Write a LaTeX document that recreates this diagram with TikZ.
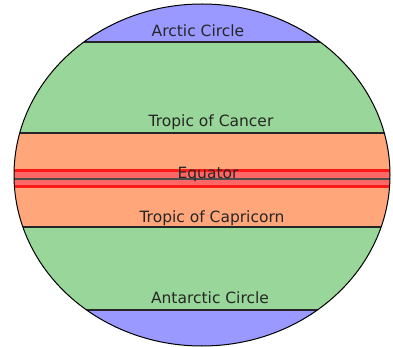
\documentclass[tikz,border=0pt]{standalone}
\usepackage{fontspec}
\setmainfont{DejaVu Sans}
\definecolor{polar}{HTML}{9999FF}
\definecolor{temperate}{HTML}{99D699}
\definecolor{tropic}{HTML}{FFA77A}
\definecolor{eqband}{HTML}{FF6666}
\definecolor{eqline}{HTML}{FF1A1A}
\begin{document}
\begin{tikzpicture}[x=1pt,y=-1pt,
  lbl/.style={font=\fontsize{15.5}{17}\selectfont, inner sep=0pt, text=black!85},
  zoneline/.style={draw=black!85, line width=1.1pt}]
\useasboundingbox (0,0) rectangle (393,347);
\begin{scope}
  \clip (202,175) ellipse [x radius=188, y radius=171];
  \fill[polar] (0,0) rectangle (393,42);
  \fill[temperate] (0,42) rectangle (393,133);
  \fill[tropic] (0,133) rectangle (393,227);
  \fill[temperate] (0,227) rectangle (393,310);
  \fill[polar] (0,310) rectangle (393,347);
  \fill[eqband] (0,169) rectangle (393,188);
  \draw[eqline, line width=2.6pt] (0,170.5) -- (393,170.5);
  \draw[eqline, line width=2.6pt] (0,186.5) -- (393,186.5);
  \draw[black!70, line width=1.6pt] (0,179) -- (393,179);
  \draw[zoneline] (0,42) -- (393,42);
  \draw[zoneline] (0,133) -- (393,133);
  \draw[zoneline] (0,227) -- (393,227);
  \draw[zoneline] (0,310) -- (393,310);
\end{scope}
\draw[black, line width=1pt] (202,175) ellipse [x radius=188, y radius=171];
\node[lbl] (arctic) at (198,31) {Arctic Circle};
\node[lbl] (cancer) at (211,122) {Tropic of Cancer};
\node[lbl] (equator) at (208,174) {Equator};
\node[lbl] (capricorn) at (212,218) {Tropic of Capricorn};
\node[lbl] (antarctic) at (210,298) {Antarctic Circle};
\end{tikzpicture}
\end{document}
